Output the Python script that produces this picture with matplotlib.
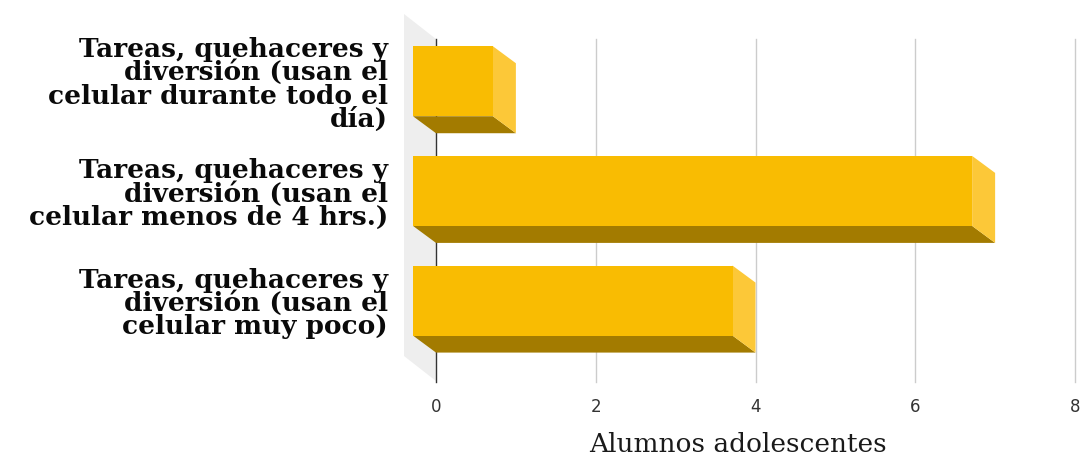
import matplotlib.pyplot as plt
from matplotlib.patches import Polygon

categorias = [
    "Tareas, quehaceres y\ndiversión (usan el\ncelular durante todo el\ndía)",
    "Tareas, quehaceres y\ndiversión (usan el\ncelular menos de 4 hrs.)",
    "Tareas, quehaceres y\ndiversión (usan el\ncelular muy poco)",
]
valores = [1, 7, 4]
ticks_x = [0, 2, 4, 6, 8]
titulo_x = "Alumnos adolescentes"

W, H = 1080, 456
fig = plt.figure(figsize=(W / 100, H / 100), dpi=100)
# plot area in pixels
x0, x1, ytop, ybot = 436, 1075, 40, 380
ax = fig.add_axes([x0 / W, 1 - ybot / H, (x1 - x0) / W, (ybot - ytop) / H])
ylo, yhi = 2.56, -0.54
ax.set_xlim(0, 8)
ax.set_ylim(ylo, yhi)
for s in ax.spines.values():
    s.set_visible(False)

ppx = (x1 - x0) / 8.0
ppy = (ybot - ytop) / (ylo - yhi)

# back wall on the left
wx, wy = 32 / ppx, 25 / ppy
wall = Polygon([(0, yhi), (-wx, yhi - wy), (-wx, ylo + 2 / ppy - wy), (0, ylo + 2 / ppy)],
               closed=True, facecolor='#eeeeee', edgecolor='none', clip_on=False, zorder=0)
ax.add_patch(wall)

# grid and axis line
for t in ticks_x:
    ax.plot([t, t], [yhi, ylo + 3 / ppy], color='#333333' if t == 0 else '#cccccc',
            lw=1, clip_on=False, zorder=1)

ax.set_xticks(ticks_x)
ax.set_xticklabels([str(t) for t in ticks_x], fontsize=12, color='#333333',
                   family='DejaVu Sans')
ax.tick_params(axis='x', length=0, pad=13)
ax.set_yticks([])

# 3d bars
dx, dy = 23 / ppx, 17 / ppy
h = 70 / ppy
for i, v in enumerate(valores):
    yt, yb = i - h / 2, i + h / 2
    # bottom face
    ax.add_patch(Polygon([(-dx, yb - dy), (v - dx, yb - dy), (v, yb), (0, yb)],
                         closed=True, facecolor='#a37b00', edgecolor='none',
                         clip_on=False, zorder=3))
    # right face
    ax.add_patch(Polygon([(v - dx, yt - dy), (v, yt), (v, yb), (v - dx, yb - dy)],
                         closed=True, facecolor='#fcc838', edgecolor='none',
                         clip_on=False, zorder=3))
    # front face
    ax.barh(i - dy, v, height=h, left=-dx, color='#f9bc02', zorder=4, clip_on=False)
    ax.text(-0.075, i - dy + 2 / ppy, categorias[i], transform=ax.get_yaxis_transform(),
            ha='right', va='center', fontsize=19, fontweight='bold',
            family='DejaVu Serif', color='#0a0a0a', linespacing=0.905)

fig.text(738 / W, 1 - 452 / H, titulo_x, ha='center', va='baseline', fontsize=19,
         family='DejaVu Serif', color='#1a1a1a')

fig.savefig('out.png', dpi=100)
